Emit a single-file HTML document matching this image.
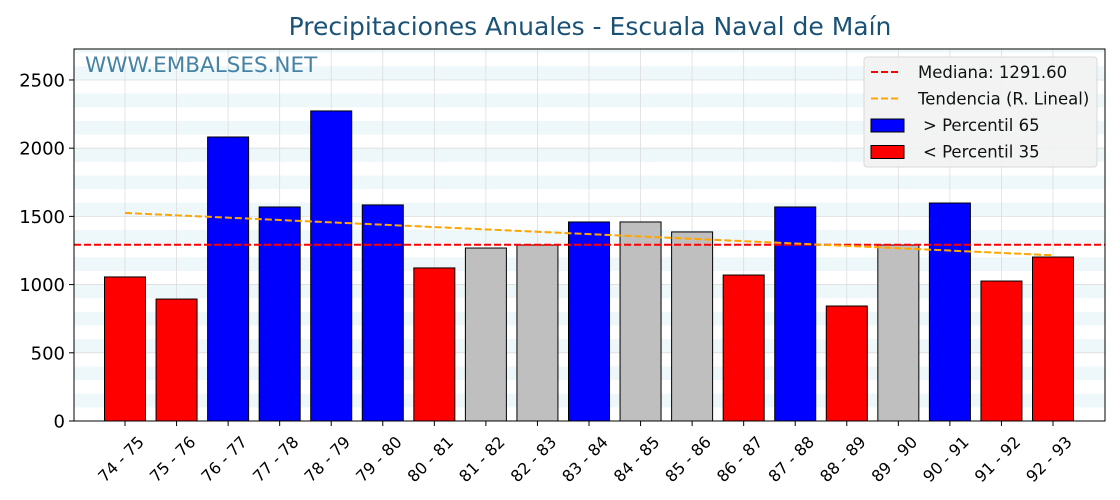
<!DOCTYPE html>
<html><head><meta charset="utf-8"><style>
body{margin:0;background:#fff;}
svg{display:block;font-family:"DejaVu Sans","Liberation Sans",sans-serif;}
</style></head><body>
<svg id="chart" width="1120" height="500"></svg>
<script>
const categories=["74 - 75","75 - 76","76 - 77","77 - 78","78 - 79","79 - 80","80 - 81","81 - 82","82 - 83","83 - 84","84 - 85","85 - 86","86 - 87","87 - 88","88 - 89","89 - 90","90 - 91","91 - 92","92 - 93"];
const values=[1056,894,2082,1569,2273,1584,1122,1268,1290,1459,1459,1386,1070,1569,843,1290,1598,1026,1202];
const barColors=["red","red","blue","blue","blue","blue","red","#bfbfbf","#bfbfbf","blue","#bfbfbf","#bfbfbf","red","blue","red","#bfbfbf","blue","red","red"];
const yTicks=[0,500,1000,1500,2000,2500];
const median=1291.6;
const trendStart=1525, trendEnd=1215;

const NS="http://www.w3.org/2000/svg";
const svg=document.getElementById('chart');
const L=74,R=1105,T=49,B=421,yMax=2727;
const y=v=>B-(v/yMax)*(B-T);
const step=(1053-125)/18;
const x=i=>125+i*step;
function el(tag,attrs,parent){const e=document.createElementNS(NS,tag);for(const k in attrs)e.setAttribute(k,attrs[k]);(parent||svg).appendChild(e);return e;}

let bg=el('rect',{x:L,y:T,width:R-L,height:B-T,fill:'#fff'});


for(let v=100;v<yMax;v+=200){
  const top=Math.max(y(v+100),T);
  let s=el('rect',{x:L,y:top,width:R-L,height:y(v)-top,fill:'#eef7f9'});
  
  
}
categories.forEach((c,i)=>{
  let g=el('line',{x1:x(i),x2:x(i),y1:T,y2:B,stroke:'#dddddd','stroke-width':0.8});
  
  
});
yTicks.forEach(t=>{
  let g=el('line',{x1:L,x2:R,y1:y(t),y2:y(t),stroke:'#dddddd','stroke-width':0.8});
  
  
  let tk=el('line',{x1:L-5,x2:L,y1:y(t),y2:y(t),stroke:'#000'});
  
  
  let lb=el('text',{x:L-9,y:y(t)+6.5,'text-anchor':'end','font-size':18,fill:'#000'});
  lb.textContent=t;
  
  
});
const bw=41;
values.forEach((v,i)=>{
  let b=el('rect',{x:x(i)-bw/2,y:y(v),width:bw,height:B-y(v),fill:barColors[i],stroke:'#000','stroke-width':1});
  
  
  let tk=el('line',{x1:x(i),x2:x(i),y1:B,y2:B+5,stroke:'#000'});
  
  
  const lx=x(i)+20, ly=B+22;
  let lb=el('text',{x:lx,y:ly,'text-anchor':'end','font-size':16,fill:'#000',transform:`rotate(-45 ${lx} ${ly})`});
  lb.textContent=categories[i];
  
  
});
let ml=el('line',{x1:L,x2:R,y1:y(median),y2:y(median),stroke:'red','stroke-width':2,'stroke-dasharray':'7,3'});


let tl=el('line',{x1:x(0),x2:x(values.length-1),y1:y(trendStart),y2:y(trendEnd),stroke:'orange','stroke-width':2,'stroke-dasharray':'7,3'});


let fr=el('rect',{x:L,y:T,width:R-L,height:B-T,fill:'none',stroke:'#000','stroke-width':1});


let wm=el('text',{x:85,y:72,'font-size':21.5,fill:'#4682a4'});
wm.textContent='WWW.EMBALSES.NET';


let tt=el('text',{x:590,y:35,'text-anchor':'middle','font-size':25,fill:'#1a5276'});
tt.textContent='Precipitaciones Anuales - Escuala Naval de Maín';


let lg=el('g',{});


el('rect',{x:864,y:57,width:233,height:110,rx:3,fill:'#f2f2f2','fill-opacity':0.9,stroke:'#d8d8d8'},lg);
const items=[['line','red','Mediana: 1291.60'],['line','orange','Tendencia (R. Lineal)'],['box','blue','> Percentil 65'],['box','red','< Percentil 35']];
items.forEach((it,k)=>{
  const cy=72+k*26.5;
  let ent=el('g',{},lg);
  
  
  if(it[0]=='line') el('line',{x1:871,x2:901,y1:cy,y2:cy,stroke:it[1],'stroke-width':2,'stroke-dasharray':'7,3'},ent);
  else el('rect',{x:871,y:cy-6,width:33,height:13,fill:it[1],stroke:'#000'},ent);
  let t=el('text',{x:it[0]=='line'?918:923,y:cy+6,'font-size':16.5,fill:'#111'},ent);
  t.textContent=it[2];
});
</script>
</body></html>
